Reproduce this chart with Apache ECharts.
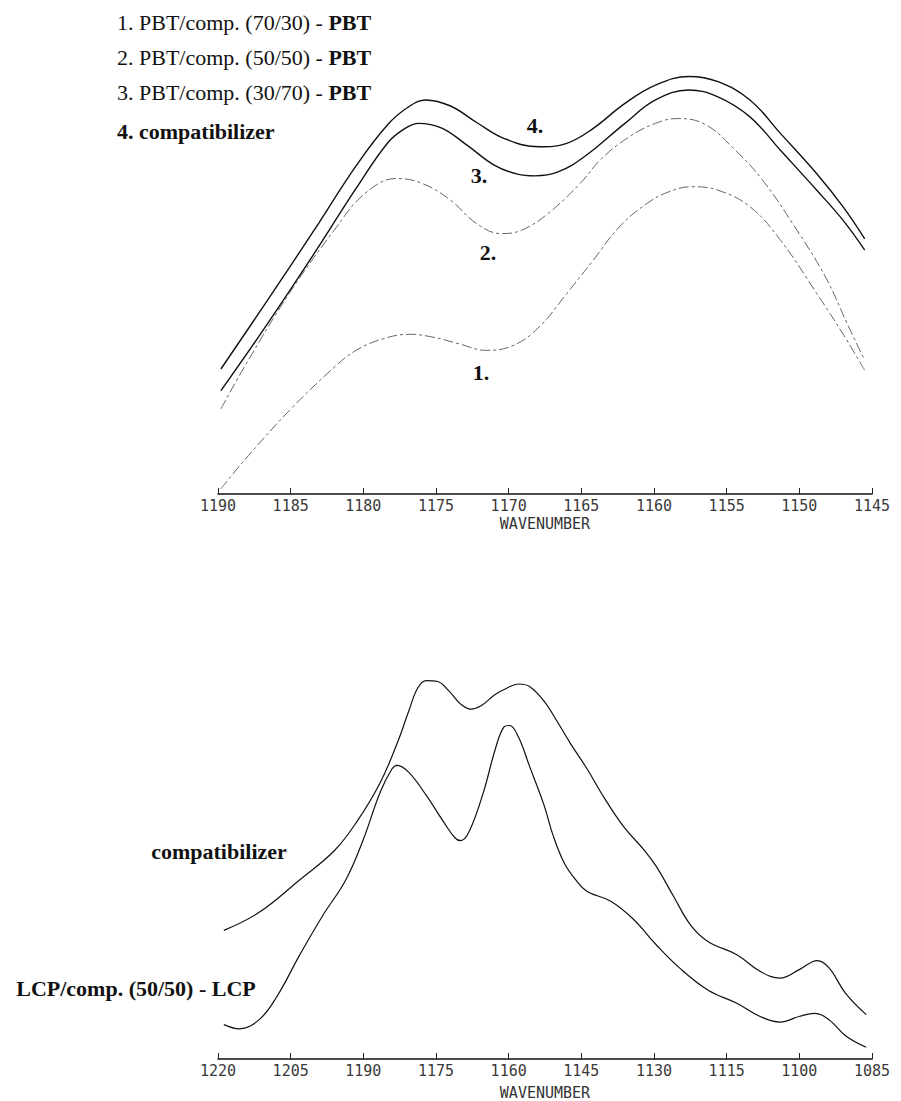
<!DOCTYPE html>
<html>
<head>
<meta charset="utf-8">
<script src="https://cdn.jsdelivr.net/npm/echarts@6/dist/echarts.min.js"></script>
<style>
html,body{margin:0;padding:0;background:#fff;}
#chart{width:901px;height:1101px;}
</style>
</head>
<body>
<div id="chart"></div>
<script>
// ---------- Top panel: PBT difference spectra (wavenumber, cm-1) ----------
const topTicks = [1190, 1185, 1180, 1175, 1170, 1165, 1160, 1155, 1150, 1145];

const topWn4 = [1189.8, 1186.6, 1183.5, 1180.5, 1178.3, 1176.8, 1175.7, 1174.0, 1172.2, 1170.3, 1167.9, 1166.0, 1164.2, 1162.0, 1159.9, 1157.6, 1155.6, 1153.4, 1151.3, 1148.8, 1147.0, 1145.5];
const topAbs4 = [0.288, 0.446, 0.602, 0.756, 0.852, 0.894, 0.908, 0.894, 0.856, 0.819, 0.800, 0.808, 0.842, 0.900, 0.942, 0.962, 0.950, 0.908, 0.831, 0.738, 0.662, 0.588];

const topWn3 = [1189.8, 1186.6, 1183.5, 1180.5, 1178.3, 1177.1, 1176.2, 1174.6, 1172.8, 1171.0, 1169.4, 1168.2, 1166.6, 1164.8, 1162.0, 1159.9, 1157.6, 1155.6, 1153.4, 1151.3, 1148.8, 1147.0, 1145.5];
const topAbs3 = [0.238, 0.392, 0.548, 0.704, 0.810, 0.843, 0.854, 0.843, 0.802, 0.758, 0.737, 0.733, 0.742, 0.777, 0.854, 0.908, 0.931, 0.915, 0.869, 0.792, 0.700, 0.631, 0.562];

const topWn2 = [1189.8, 1188.2, 1185.1, 1182.0, 1179.9, 1177.7, 1175.9, 1174.0, 1172.2, 1170.5, 1169.1, 1167.3, 1165.1, 1163.6, 1161.7, 1159.9, 1158.4, 1156.5, 1154.4, 1152.5, 1150.4, 1148.2, 1146.7, 1145.5];
const topAbs2 = [0.196, 0.292, 0.462, 0.608, 0.692, 0.727, 0.715, 0.677, 0.623, 0.600, 0.608, 0.646, 0.715, 0.773, 0.823, 0.854, 0.865, 0.852, 0.792, 0.722, 0.620, 0.500, 0.392, 0.308];

const topWn1 = [1189.8, 1188.2, 1185.1, 1182.0, 1180.5, 1178.6, 1176.8, 1175.3, 1173.4, 1171.6, 1169.7, 1167.9, 1166.0, 1164.2, 1162.4, 1160.5, 1159.0, 1157.4, 1155.6, 1153.4, 1151.3, 1148.8, 1147.0, 1145.5];
const topAbs1 = [0.012, 0.077, 0.192, 0.292, 0.331, 0.358, 0.368, 0.362, 0.346, 0.331, 0.342, 0.385, 0.462, 0.538, 0.615, 0.669, 0.696, 0.708, 0.700, 0.662, 0.585, 0.462, 0.369, 0.285];

// ---------- Bottom panel: LCP ----------
const botTicks = [1220, 1205, 1190, 1175, 1160, 1145, 1130, 1115, 1100, 1085];

const botWnC = [1218.8, 1211.5, 1203.1, 1196.0, 1191.3, 1186.5, 1183.0, 1180.6, 1178.8, 1177.0, 1174.7, 1172.3, 1169.9, 1167.8, 1165.7, 1162.8, 1160.4, 1158.0, 1155.7, 1152.7, 1149.7, 1147.3, 1143.8, 1140.2, 1136.1, 1131.9, 1129.5, 1126.0, 1122.4, 1118.8, 1112.9, 1108.2, 1104.0, 1099.9, 1096.3, 1093.9, 1090.4, 1086.2];
const botAbsC = [0.307, 0.350, 0.428, 0.497, 0.567, 0.660, 0.754, 0.831, 0.885, 0.903, 0.901, 0.878, 0.847, 0.835, 0.843, 0.870, 0.885, 0.895, 0.889, 0.854, 0.800, 0.754, 0.692, 0.622, 0.552, 0.497, 0.459, 0.389, 0.319, 0.280, 0.249, 0.210, 0.193, 0.214, 0.235, 0.218, 0.156, 0.106];

const botWnL = [1218.8, 1215.6, 1211.5, 1207.9, 1203.1, 1198.4, 1193.6, 1190.1, 1186.5, 1184.1, 1183.0, 1180.6, 1177.0, 1173.5, 1171.1, 1169.9, 1168.1, 1165.2, 1162.8, 1161.0, 1159.8, 1158.0, 1155.7, 1152.7, 1150.9, 1148.5, 1146.2, 1143.8, 1139.0, 1134.3, 1129.5, 1124.8, 1118.8, 1112.9, 1108.2, 1104.0, 1099.9, 1096.9, 1093.9, 1090.4, 1086.2];
const botAbsL = [0.082, 0.072, 0.094, 0.148, 0.249, 0.342, 0.428, 0.521, 0.637, 0.692, 0.701, 0.684, 0.629, 0.567, 0.528, 0.521, 0.544, 0.637, 0.738, 0.792, 0.796, 0.769, 0.699, 0.606, 0.536, 0.467, 0.428, 0.400, 0.377, 0.334, 0.272, 0.218, 0.164, 0.133, 0.102, 0.088, 0.102, 0.109, 0.094, 0.055, 0.028];

const legendLines = ['1. PBT/comp. (70/30) - ', '2. PBT/comp. (50/50) - ', '3. PBT/comp. (30/70) - '];
const legendTail = 'PBT';
const legendLast = '4. compatibilizer';
const curveTags = ['1.', '2.', '3.', '4.'];
const botNames = ['compatibilizer', 'LCP/comp. (50/50) - LCP'];

function zip(xs, ys) { return xs.map((x, i) => [x, ys[i]]); }

const serif = '"Liberation Serif", "Times New Roman", serif';
const mono = '"DejaVu Sans Mono", monospace';
const FS = 22;

function xAxisCfg(gi, min, max, interval, ticks, gap) {
  return {
    type: 'value', gridIndex: gi, inverse: true, min: min, max: max, interval: interval,
    name: 'WAVENUMBER', nameLocation: 'middle', nameGap: gap,
    nameTextStyle: { fontFamily: mono, fontSize: 15, color: '#333' },
    axisLine: { show: true, lineStyle: { color: '#111', width: 1.5 } },
    axisTick: { show: true, inside: true, length: 6, lineStyle: { color: '#222', width: 1 } },
    axisLabel: { show: true, margin: 4, fontFamily: mono, fontSize: 15, color: '#3a3a3a',
      formatter: v => (ticks.indexOf(v) >= 0 ? String(v) : '') },
    splitLine: { show: false }
  };
}
function yAxisCfg(gi) {
  return { type: 'value', gridIndex: gi, min: 0, max: 1, show: false, splitLine: { show: false } };
}

const solid = { color: '#111', width: 1.4 };
const dashed = { color: '#666', width: 1, type: [10, 3, 3, 3] };

function txt(x, y, text, bold, align) {
  return { type: 'text', x: x, y: y, silent: true,
    style: { text: text, font: (bold ? 'bold ' : '') + FS + 'px ' + serif, fill: '#111',
      align: align || 'center', verticalAlign: 'middle', textAlign: align || 'center', textVerticalAlign: 'middle' } };
}

const graphics = [];
const legendY = [22, 57, 92];
legendLines.forEach((t, i) => {
  graphics.push({ type: 'text', x: 117, y: legendY[i], silent: true,
    style: { text: '{n|' + t + '}{b|' + legendTail + '}', fill: '#111',
      verticalAlign: 'middle', textVerticalAlign: 'middle',
      rich: { n: { fontFamily: serif, fontSize: FS, color: '#111' },
              b: { fontFamily: serif, fontSize: FS, fontWeight: 'bold', color: '#111' } } } });
});
graphics.push(txt(117, 131, legendLast, true, 'left'));
graphics.push(txt(481, 372, curveTags[0], true));
graphics.push(txt(488, 252, curveTags[1], true));
graphics.push(txt(479, 175, curveTags[2], true));
graphics.push(txt(535, 125, curveTags[3], true));
graphics.push(txt(219, 851, botNames[0], true));
graphics.push(txt(136, 988, botNames[1], true));

const chart = echarts.init(document.getElementById('chart'), null, { renderer: 'svg' });
chart.setOption({
  backgroundColor: '#fff',
  animation: false,
  grid: [
    { left: 218, width: 654, top: 60, height: 434 },
    { left: 218, width: 654, top: 640, height: 424 }
  ],
  xAxis: [xAxisCfg(0, 1145, 1190, 5, topTicks, 22), xAxisCfg(1, 1085, 1220, 15, botTicks, 26)],
  yAxis: [yAxisCfg(0), yAxisCfg(1)],
  graphic: graphics,
  series: [
    { name: '4', type: 'line', xAxisIndex: 0, yAxisIndex: 0, data: zip(topWn4, topAbs4), smooth: 0.4, showSymbol: false, lineStyle: solid },
    { name: '3', type: 'line', xAxisIndex: 0, yAxisIndex: 0, data: zip(topWn3, topAbs3), smooth: 0.4, showSymbol: false, lineStyle: solid },
    { name: '2', type: 'line', xAxisIndex: 0, yAxisIndex: 0, data: zip(topWn2, topAbs2), smooth: 0.4, showSymbol: false, lineStyle: dashed },
    { name: '1', type: 'line', xAxisIndex: 0, yAxisIndex: 0, data: zip(topWn1, topAbs1), smooth: 0.4, showSymbol: false, lineStyle: dashed },
    { name: 'compatibilizer', type: 'line', xAxisIndex: 1, yAxisIndex: 1, data: zip(botWnC, botAbsC), smooth: 0.4, showSymbol: false, lineStyle: { color: '#111', width: 1.2 } },
    { name: 'LCP', type: 'line', xAxisIndex: 1, yAxisIndex: 1, data: zip(botWnL, botAbsL), smooth: 0.4, showSymbol: false, lineStyle: { color: '#111', width: 1.2 } }
  ]
});
</script>
</body>
</html>
